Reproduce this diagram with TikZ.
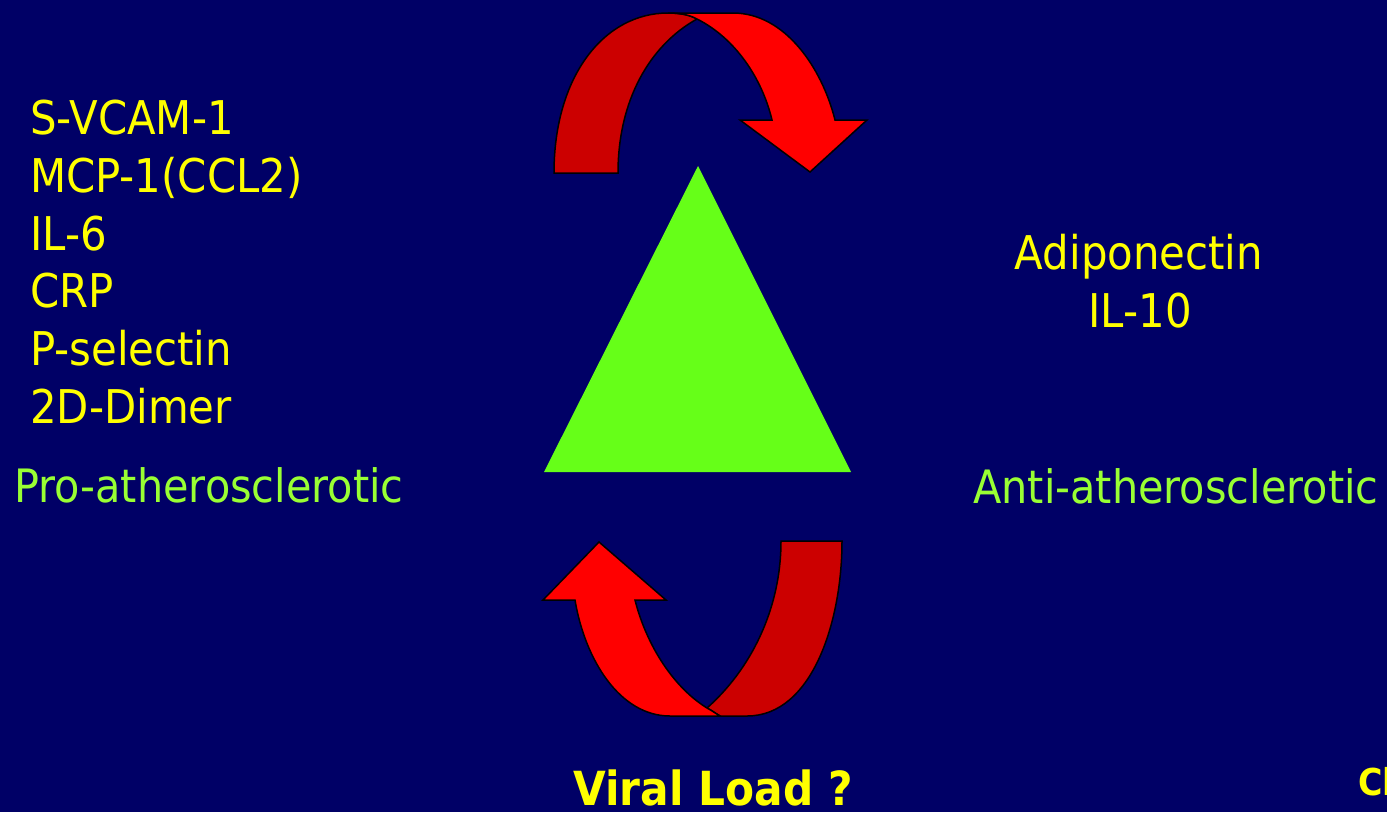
\documentclass[tikz,border=0pt]{standalone}
\usepackage{fontspec}
\setmainfont{DejaVu Sans}[FakeStretch=0.9]
\definecolor{bg}{RGB}{0,0,102}
\definecolor{txtyellow}{RGB}{255,255,0}
\definecolor{txtgreen}{RGB}{153,255,51}
\definecolor{trigreen}{RGB}{102,255,24}
\definecolor{redlight}{RGB}{255,0,0}
\definecolor{reddark}{RGB}{204,0,0}
\begin{document}
\begin{tikzpicture}[x=1pt,y=-1pt,
  lbl/.style={inner sep=0pt,text=txtyellow,font=\fontsize{46.5}{55}\selectfont},
  glbl/.style={inner sep=0pt,text=txtgreen,font=\fontsize{46}{55}\selectfont},
  blbl/.style={inner sep=0pt,text=txtyellow,font=\bfseries\fontsize{47}{55}\selectfont},
  ribbon/.style={draw=black,line width=1.5pt,line join=miter}]
\useasboundingbox (0,0) rectangle (1387,812);
\clip (0,0) rectangle (1387,812);
\fill[bg] (0,0) rectangle (1387,812);

% left list
\node[lbl,anchor=base west] (l1) at (30,134) {S-VCAM-1};
\node[lbl,anchor=base west] (l2) at (30,192) {MCP-1(CCL2)};
\node[lbl,anchor=base west] (l3) at (30,250) {IL-6};
\node[lbl,anchor=base west] (l4) at (30,307) {CRP};
\node[lbl,anchor=base west] (l5) at (30,365) {P-selectin};
\node[lbl,anchor=base west] (l6) at (30,423) {2D-Dimer};
\node[glbl,anchor=base west] (pro) at (14,502) {Pro-atherosclerotic};

% right list
\node[lbl,anchor=base] (r1) at (1139,269) {Adiponectin};
\node[lbl,anchor=base] (r2) at (1140,327) {IL-10};
\node[glbl,anchor=base west] (anti) at (973,503) {Anti-atherosclerotic};

% bottom
\node[blbl,anchor=base] (vl) at (713,805) {Viral Load ?};
\node[inner sep=0pt,text=txtyellow,font=\bfseries\fontsize{37}{44}\selectfont,anchor=base west] (cl) at (1358,795) {Cl};

% triangle
\fill[trigreen] (698,166) -- (851,472) -- (544,472) -- cycle;

% top arrow: dark back part
\path[ribbon,fill=reddark] (554,173) .. controls (554,75) and (605,13) .. (668,13)
  .. controls (680,13) and (690,15) .. (697,19)
  .. controls (650,45) and (618,100) .. (618,173) -- cycle;
% top arrow: bright front part
\path[ribbon,fill=redlight] (668,13) -- (733,13)
  .. controls (785,13) and (822,68) .. (835,120)
  -- (867,120) -- (810,172) -- (740,120) -- (772,120)
  .. controls (762,78) and (735,38) .. (697,19)
  .. controls (690,15) and (680,13) .. (668,13) -- cycle;

% bottom arrow: dark back part
\path[ribbon,fill=reddark] (781,541) -- (842,541)
  .. controls (842,622) and (812,716) .. (747,716)
  -- (720,716)
  .. controls (715,713) and (711,710) .. (707,708)
  .. controls (750,670) and (781,610) .. (781,541) -- cycle;
% bottom arrow: bright front part
\path[ribbon,fill=redlight] (599,542) -- (666,600) -- (635,600)
  .. controls (645,640) and (670,685) .. (707,708)
  .. controls (711,710) and (715,713) .. (720,716)
  -- (670,716)
  .. controls (620,716) and (585,660) .. (575,600)
  -- (543,600) -- cycle;
\end{tikzpicture}
\end{document}
